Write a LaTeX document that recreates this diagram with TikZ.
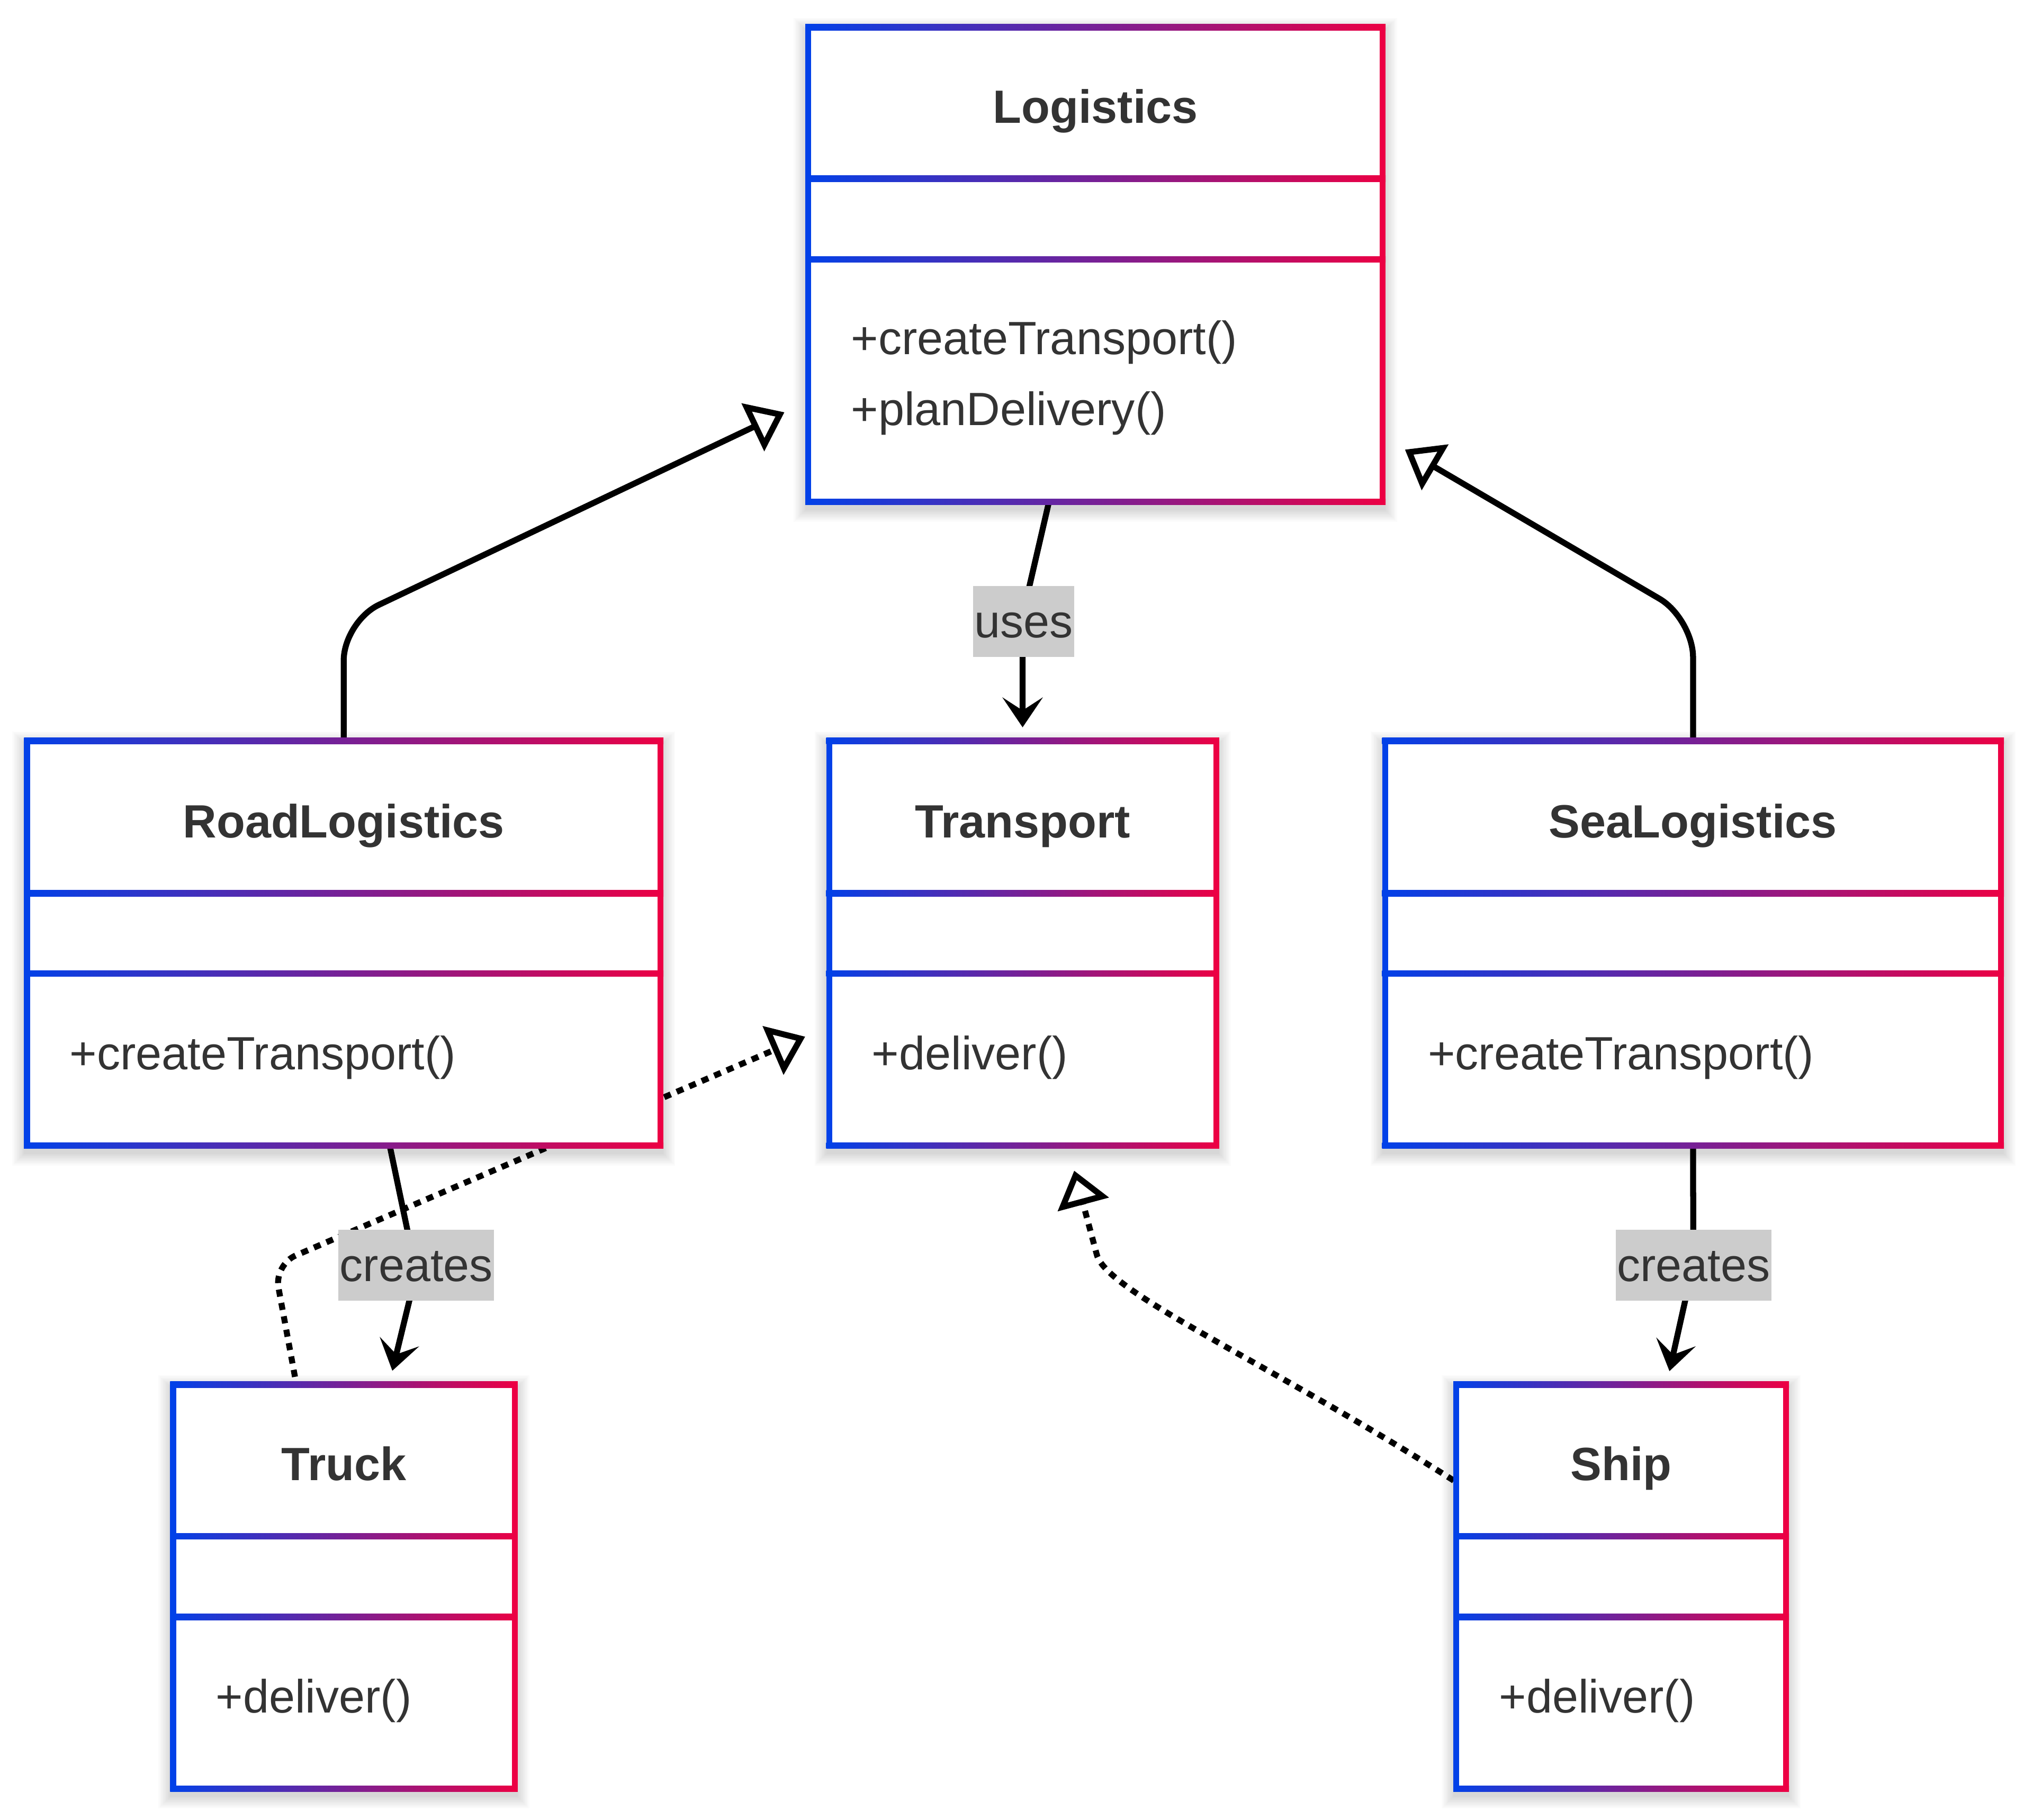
\documentclass[tikz,border=0pt]{standalone}
\usepackage{fontspec}
\setmainfont{Liberation Sans}
\usetikzlibrary{arrows.meta,calc}
\definecolor{cblue}{RGB}{2,65,232}
\definecolor{cred}{RGB}{236,0,68}
\definecolor{txt}{HTML}{333333}
\definecolor{lblbg}{HTML}{CCCCCC}
\pgfdeclarelayer{shadowlayer}
\pgfdeclarelayer{edgelayer}
\pgfsetlayers{shadowlayer,edgelayer,main}
\tikzset{
  boxnode/.style={rectangle, fill=white, draw=none, inner sep=0pt, outer sep=0pt},
  classtitle/.style={font=\fontsize{36}{43}\selectfont\bfseries, text=txt, inner sep=0pt, anchor=base},
  member/.style={font=\fontsize{36}{43}\selectfont, text=txt, inner sep=0pt, anchor=base west},
  edgelabel/.style={fill=lblbg, text=txt, font=\fontsize{36}{43}\selectfont, inner xsep=1pt, inner ysep=7.3pt, text height=32.6pt, text depth=7.6pt},
  conn/.style={draw=black, line width=4.6pt},
  dotconn/.style={conn, dash pattern=on 5.5pt off 5pt},
  inherit/.style={-{Triangle[open, length=27pt, width=40pt]}},
  assoc/.style={-{Stealth[length=23pt, width=31pt, inset=10pt]}},
}
\newcommand\umlbox[7]{% #1 name, #2 x1, #3 x2, #4 y1, #5 y2, #6 d1, #7 d2
  \begin{pgfonlayer}{shadowlayer}
    \foreach \sr in {0,...,9}{
      \fill[black, opacity=0.015] ({#2-2.25-\sr},{#4-2.25-\sr+4}) rectangle ({#3+2.25+\sr},{#5+2.25+\sr+4});
    }
  \end{pgfonlayer}
  \node[boxnode, minimum width={(#3-#2)*1pt}, minimum height={(#5-#4)*1pt}, anchor=north west] (#1) at (#2,#4) {};
  \foreach \yy in {#4,#6,#7,#5}{
    \shade[left color=cblue, right color=cred] ({#2-2.3},{\yy-2.3}) rectangle ({#3+2.3},{\yy+2.3});
  }
  \fill[cblue] ({#2-2.3},{#4-2.3}) rectangle ({#2+2.3},{#5+2.3});
  \fill[cred] ({#3-2.3},{#4-2.3}) rectangle ({#3+2.3},{#5+2.3});
}
\begin{document}
\begin{tikzpicture}[x=1pt, y=-1pt]
\useasboundingbox (0,0) rectangle (1568,1403.8);
\begin{pgfonlayer}{shadowlayer}
  \fill[white] (0,0) rectangle (1568,1403.8);
\end{pgfonlayer}

% class boxes
\umlbox{logistics}{623.4}{1066.3}{21}{387.2}{137.8}{200.2}
\umlbox{road}{20.8}{509.4}{571.5}{883.7}{689}{751}
\umlbox{transport}{639.5}{938}{571.5}{883.7}{689}{751}
\umlbox{sea}{1068.3}{1543.3}{571.5}{883.7}{689}{751}
\umlbox{truck}{133.5}{397}{1068}{1379.6}{1184.9}{1247.2}
\umlbox{ship}{1123.2}{1377.5}{1068}{1379.6}{1184.9}{1247.2}

% texts
\node[classtitle] (logistics-name) at (844.85,95) {Logistics};
\node[member] (logistics-op1) at (656.2,273.4) {+createTransport()};
\node[member] (logistics-op2) at (656.2,328.1) {+planDelivery()};
\node[classtitle] (road-name) at (265.1,646.2) {RoadLogistics};
\node[member] (road-op1) at (53.6,825) {+createTransport()};
\node[classtitle] (transport-name) at (788.75,646.2) {Transport};
\node[member] (transport-op1) at (672.3,825) {+deliver()};
\node[classtitle] (sea-name) at (1305.8,646.2) {SeaLogistics};
\node[member] (sea-op1) at (1101.1,825) {+createTransport()};
\node[classtitle] (truck-name) at (265.25,1142) {Truck};
\node[member] (truck-op1) at (166.3,1321) {+deliver()};
\node[classtitle] (ship-name) at (1250.35,1142) {Ship};
\node[member] (ship-op1) at (1156,1321) {+deliver()};

% arrow end points
\coordinate (tipRL) at (605,318);
\coordinate (tipSL) at (1083.6,346.8);
\coordinate (tipU) at (788.7,561);
\coordinate (tipRT) at (302.6,1057.3);
\coordinate (tipSS) at (1287.6,1057.6);
\coordinate (tipTT) at (621,799.6);
\coordinate (tipST) at (828.5,903);

% connectors
\begin{pgfonlayer}{edgelayer}
\draw[conn, inherit, rounded corners=30pt] (road.north) -- (265.1,479.4) -- (tipRL);
\draw[conn, inherit, rounded corners=30pt] (sea.north) -- (1305.8,477) -- (tipSL);
\draw[conn, assoc] ($(logistics.south)+(-35.85,0)$) -- (792.6,458) -- (788.7,505) -- (tipU);
\draw[conn, assoc] ($(road.south)+(35.5,0)$) -- (315.5,955) -- (316.5,1000) -- (tipRT);
\draw[conn, assoc] (sea.south) -- (1306,975) -- (tipSS);
\draw[dotconn, inherit, rounded corners=18pt] ($(truck.north)+(-37.75,-6)$) -- (211.5,975.5) -- (tipTT);
\draw[dotconn, inherit] ($(ship.north west)+(-2,74)$) .. controls (980,1052) and (854,997) .. (846,968) -- (tipST);
\end{pgfonlayer}

% edge labels
\node[edgelabel] (uses-lbl) at (789.4,479.4) {uses};
\node[edgelabel] (creates1-lbl) at (321,975.9) {creates};
\node[edgelabel] (creates2-lbl) at (1306.2,975.8) {creates};
\end{tikzpicture}
\end{document}
